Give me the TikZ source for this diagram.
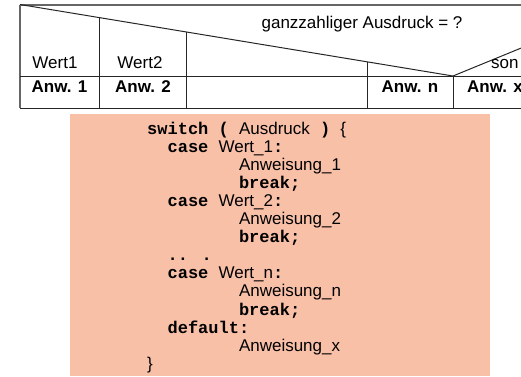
\documentclass[tikz,border=0pt]{standalone}
\usepackage{fontspec}
\setmainfont{Liberation Sans}
\newfontfamily\codefont{Liberation Mono}
\usetikzlibrary{positioning}
\definecolor{codebg}{RGB}{249,192,168}
\newcommand{\kw}[1]{{\codefont\bfseries #1}}

\begin{document}
\begin{tikzpicture}[x=1pt,y=-1pt,
    txt/.style={inner sep=0pt,anchor=base,font=\fontsize{17}{18}\selectfont},
    code/.style={inner sep=0pt,anchor=base west,font=\fontsize{17}{18}\selectfont},
    rule/.style={line width=1pt,black!85}]
\useasboundingbox (0,0) rectangle (521,376);
%\draw[help lines] (0,0) grid (521,376);
\begin{scope}
    % corners and cut points of the header
    \coordinate (tl) at (20,4.5);
    \coordinate (tr) at (521,4.5);
    \coordinate (ml) at (20,76);
    \coordinate (mr) at (521,76);
    \coordinate (bl) at (20,108);
    \coordinate (br) at (521,108);
    \coordinate (apex) at (453,76);
    \coordinate (ex) at (530,44.4);
    \coordinate (c1) at (99,17.6);
    \coordinate (c2) at (186,32.1);
    \coordinate (cn) at (367,61.7);
    \coordinate (c1b) at (99,108);
    \coordinate (c2b) at (186,108);
    \coordinate (cnb) at (367,108);
    \coordinate (apb) at (453,108);

    \draw [line width=2pt,black!60] (tl) -- (tr);
    \draw [line width=1.6pt,black!60] (tl) -- (bl);
    \draw [rule] (ml) -- (mr);
    \draw [rule] (bl) -- (br);
    \draw [rule] (tl) -- (apex);
    \draw [rule] (apex) -- (ex);
    \draw [rule] (c1) -- (c1b);
    \draw [rule] (c2) -- (c2b);
    \draw [rule] (cn) -- (cnb);
    \draw [rule] (apex) -- (apb);

    \node [txt] (frage) at (362,28.3) {ganzzahliger Ausdruck = ?};
    \node [txt] (w1) at (55,68.3) {Wert1};
    \node [txt] (w2) at (140,68.3) {Wert2};
    \node [code] (ws) at (491,68) {son};
    \node [txt] (a1) at (59.5,92.7) {\bfseries Anw. 1};
    \node [txt] (a2) at (143,92.7) {\bfseries Anw. 2};
    \node [txt] (an) at (410,92.7) {\bfseries Anw. n};
    \node [code] (ax) at (467,92.7) {\bfseries Anw. x};
\end{scope}
\begin{scope}
    \fill [codebg] (70,114) rectangle (490,376);

    \node [code] (l1) at (147,134) {\kw{switch ( }Ausdruck\kw{ ) }\{};
    \node [code] (l2) at (167.4,152.1) {\kw{case }Wert\_1\kw{:}};
    \node [code] (l3) at (238.8,170.2) {Anweisung\_1};
    \node [code] (l4) at (238.8,188.3) {\kw{break;}};
    \node [code] (l5) at (167.4,206.4) {\kw{case }Wert\_2\kw{:}};
    \node [code] (l6) at (238.8,224.5) {Anweisung\_2};
    \node [code] (l7) at (238.8,242.6) {\kw{break;}};
    \node [code] (l8) at (167.4,260.7) {\kw{.. .}};
    \node [code] (l9) at (167.4,278.8) {\kw{case }Wert\_n\kw{:}};
    \node [code] (l10) at (238.8,296.9) {Anweisung\_n};
    \node [code] (l11) at (238.8,315) {\kw{break;}};
    \node [code] (l12) at (167.4,333.1) {\kw{default:}};
    \node [code] (l13) at (238.8,351.2) {Anweisung\_x};
    \node [code] (l14) at (147,369.3) {\}};
\end{scope}
\end{tikzpicture}
\end{document}
